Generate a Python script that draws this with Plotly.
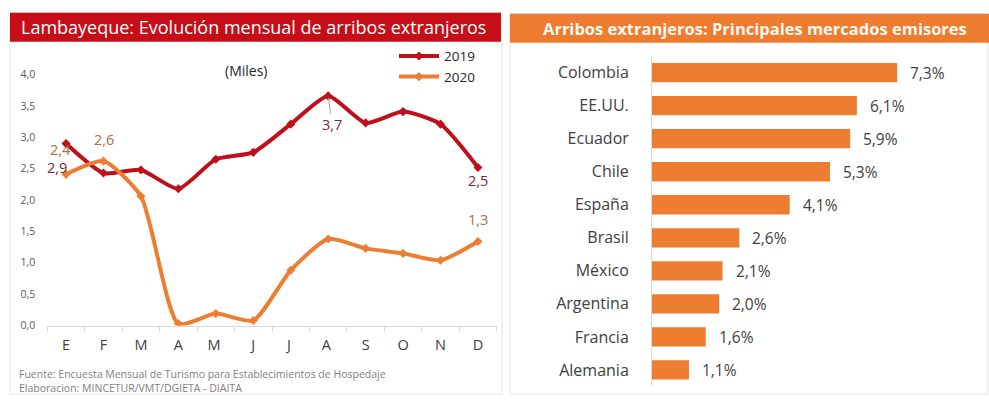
import plotly.graph_objects as go

# ---------------- data ----------------
months = ["E", "F", "M", "A", "M ", "J", "J ", "A ", "S", "O", "N", "D"]
arrivals_2019 = [2.90, 2.43, 2.48, 2.18, 2.65, 2.76, 3.21, 3.66, 3.23, 3.41, 3.21, 2.52]
arrivals_2020 = [2.41, 2.62, 2.06, 0.03, 0.19, 0.08, 0.88, 1.38, 1.23, 1.15, 1.04, 1.34]
y_ticks = [0.0, 0.5, 1.0, 1.5, 2.0, 2.5, 3.0, 3.5, 4.0]

markets = ["Colombia", "EE.UU.", "Ecuador", "Chile", "España", "Brasil",
           "México", "Argentina", "Francia", "Alemania"]
market_share = [7.3, 6.1, 5.9, 5.3, 4.1, 2.6, 2.1, 2.0, 1.6, 1.1]

title_left = "Lambayeque: Evolución mensual de arribos extranjeros"
title_right = "Arribos extranjeros: Principales mercados emisores"
unit_note = "(Miles)"
source_lines = ["Fuente: Encuesta Mensual de Turismo para Establecimientos de Hospedaje",
                "Elaboracion: MINCETUR/VMT/DGIETA - DIAITA"]

RED = "#BE0F1B"
ORANGE = "#ED7D31"
FONT = "Open Sans"
W, H = 989, 403


def px_x(p):
    return p / W


def px_y(p):
    return (H - p) / H


def fmt(v):
    return f"{v:.1f}".replace(".", ",")


fig = go.Figure()

fig.add_trace(go.Scatter(
    x=months, y=arrivals_2019, name="2019", mode="lines+markers",
    line=dict(color=RED, width=4, shape="spline", smoothing=0.6),
    marker=dict(symbol="diamond", size=7, color=RED),
    xaxis="x", yaxis="y"))
fig.add_trace(go.Scatter(
    x=months, y=arrivals_2020, name="2020", mode="lines+markers",
    line=dict(color=ORANGE, width=4, shape="spline", smoothing=0.6),
    marker=dict(symbol="diamond", size=7, color=ORANGE),
    xaxis="x", yaxis="y"))

fig.add_trace(go.Bar(
    x=market_share, y=markets, orientation="h",
    marker=dict(color=ORANGE, line=dict(width=0)),
    showlegend=False, xaxis="x2", yaxis="y2"))

annotations = []
shapes = []

# panel borders
shapes.append(dict(type="rect", xref="paper", yref="paper",
                   x0=px_x(10), x1=px_x(502), y0=px_y(401), y1=px_y(6),
                   line=dict(color="#E3E3E3", width=1), fillcolor="rgba(0,0,0,0)", layer="below"))
shapes.append(dict(type="rect", xref="paper", yref="paper",
                   x0=px_x(510), x1=px_x(988), y0=px_y(401), y1=px_y(7),
                   line=dict(color="#E3E3E3", width=1), fillcolor="rgba(0,0,0,0)", layer="below"))
# title bars
shapes.append(dict(type="rect", xref="paper", yref="paper",
                   x0=px_x(10), x1=px_x(501), y0=px_y(36), y1=px_y(6),
                   line=dict(width=0), fillcolor="#C70E18"))
shapes.append(dict(type="rect", xref="paper", yref="paper",
                   x0=px_x(510), x1=px_x(989), y0=px_y(37), y1=px_y(7),
                   line=dict(width=0), fillcolor="#EE7C30"))

annotations.append(dict(text=title_left, xref="paper", yref="paper",
                        x=px_x(254), y=px_y(21), xanchor="center", yanchor="middle",
                        showarrow=False, font=dict(family=FONT, size=18, color="white")))
annotations.append(dict(text="<b>" + title_right + "</b>", xref="paper", yref="paper",
                        x=px_x(755), y=px_y(22), xanchor="center", yanchor="middle",
                        showarrow=False, font=dict(family=FONT, size=16.5, color="#FFF8EE")))

annotations.append(dict(text=unit_note, xref="paper", yref="paper",
                        x=px_x(246), y=px_y(66), xanchor="center", yanchor="middle",
                        showarrow=False, font=dict(family=FONT, size=14, color="#262626")))

for i, line in enumerate(source_lines):
    annotations.append(dict(text=line, xref="paper", yref="paper",
                            x=px_x(17), y=px_y(380 + 15 * i), xanchor="left", yanchor="middle",
                            showarrow=False, font=dict(family=FONT, size=10.5, color="#808080")))

# data labels on line chart
LAB19 = "#7D2440"
LAB20 = "#A8713F"
LSIZE = 14.5
annotations += [
    dict(x=months[0], y=arrivals_2019[0], text=fmt(arrivals_2019[0]), xref="x", yref="y",
         showarrow=False, xshift=-9, yshift=-24, font=dict(family=FONT, size=LSIZE, color=LAB19)),
    dict(x=months[0], y=arrivals_2020[0], text=fmt(arrivals_2020[0]), xref="x", yref="y",
         showarrow=False, xshift=-6, yshift=25, font=dict(family=FONT, size=LSIZE, color=LAB20)),
    dict(x=months[1], y=arrivals_2020[1], text=fmt(arrivals_2020[1]), xref="x", yref="y",
         showarrow=False, xshift=1, yshift=22, font=dict(family=FONT, size=LSIZE, color=LAB20)),
    dict(x=months[7], y=arrivals_2019[7], text=fmt(arrivals_2019[7]), xref="x", yref="y",
         showarrow=True, arrowhead=0, arrowwidth=1, arrowcolor="#9AA7B8", ax=4, ay=29,
         standoff=2, font=dict(family=FONT, size=LSIZE, color=LAB19)),
    dict(x=months[11], y=arrivals_2019[11], text=fmt(arrivals_2019[11]), xref="x", yref="y",
         showarrow=False, xshift=0, yshift=-13, font=dict(family=FONT, size=LSIZE, color=LAB19)),
    dict(x=months[11], y=arrivals_2020[11], text=fmt(arrivals_2020[11]), xref="x", yref="y",
         showarrow=False, xshift=0, yshift=22, font=dict(family=FONT, size=LSIZE, color=LAB20)),
]

# value labels on bars
for m, v in zip(markets, market_share):
    annotations.append(dict(x=v, y=m, xref="x2", yref="y2", text=fmt(v) + "%",
                            showarrow=False, xanchor="left", xshift=11,
                            font=dict(family=FONT, size=15.5, color="#404040")))

fig.update_layout(
    width=W, height=H, margin=dict(l=0, r=0, t=0, b=0),
    paper_bgcolor="white", plot_bgcolor="white",
    separators=",.",
    font=dict(family=FONT, color="#404040"),
    showlegend=True,
    legend=dict(x=px_x(394), y=px_y(35), xanchor="left", yanchor="top",
                bgcolor="rgba(0,0,0,0)", font=dict(family=FONT, size=13.5, color="#262626"),
                tracegroupgap=0, itemwidth=40),
    xaxis=dict(domain=[px_x(47.3), px_x(496.7)], type="category", range=[-0.5, 11.5],
               showline=True, linecolor="#D9D9D9", linewidth=1,
               ticks="outside", tickson="boundaries", ticklen=4, tickcolor="#D9D9D9",
               showgrid=False, zeroline=False, ticklabelstandoff=6,
               tickfont=dict(family=FONT, size=14.5, color="#404040"), fixedrange=True),
    yaxis=dict(domain=[px_y(330), px_y(70)], range=[0, 4.0], tickvals=y_ticks,
               tickformat=".1f", showgrid=False, zeroline=False, showline=False,
               ticks="", ticklabelstandoff=11,
               tickfont=dict(family=FONT, size=10.5, color="#595959")),
    xaxis2=dict(domain=[px_x(652), px_x(960)], range=[0, 9.17], visible=False),
    yaxis2=dict(domain=[px_y(393.1), px_y(50.9)], type="category", autorange="reversed",
                anchor="x2", showline=True, linecolor="#D9D9D9", linewidth=1,
                ticks="", ticklabelstandoff=19, showgrid=False,
                tickfont=dict(family=FONT, size=16, color="#404040")),
    bargap=0.415,
    shapes=shapes, annotations=annotations,
)

fig.write_html("out.html", config={"displayModeBar": False},
               post_script="document.body.style.margin='0';")
